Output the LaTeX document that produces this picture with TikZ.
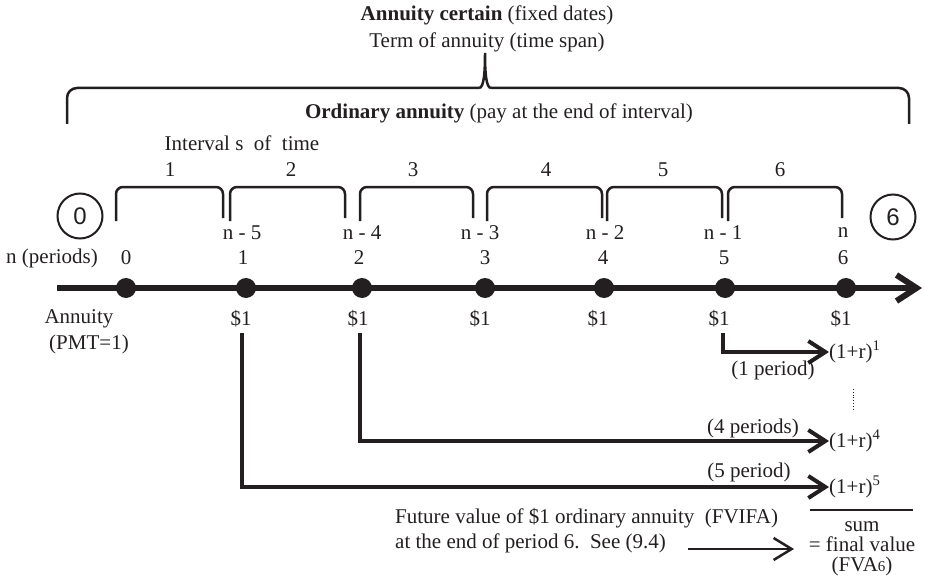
\documentclass[tikz,border=0pt]{standalone}
\usepackage{fontspec}
\setmainfont{Liberation Serif}
\newfontfamily\sansf{Liberation Sans}
\usetikzlibrary{arrows.meta}
\definecolor{ink}{HTML}{231F20}
\tikzset{
  txt/.style={inner sep=0pt, text=ink, font=\fontsize{21}{24}\selectfont},
  dot/.style={circle, fill=ink, minimum size=20pt, inner sep=0pt},
  brk/.style={draw=ink, line width=2.5pt, rounded corners=7pt},
  bigbrace/.style={draw=ink, line width=2.5pt},
  axis/.style={draw=ink, line width=6pt, -{Straight Barb[length=20pt,width=26pt]}},
  flow/.style={draw=ink, line width=4pt, -{Straight Barb[length=17pt,width=22pt]}},
  thinflow/.style={draw=ink, line width=2.5pt, -{Straight Barb[length=18pt,width=22pt]}},
  endcirc/.style={circle, draw=ink, line width=2pt, minimum size=45pt, inner sep=0pt,
    text=ink, font=\sansf\fontsize{24}{24}\selectfont},
}
\begin{document}
\begin{tikzpicture}[x=1pt,y=-1pt]
\path[use as bounding box] (0,0) rectangle (925,588);

% titles
\node[txt] (title) at (487,15) {\textbf{Annuity certain} (fixed dates)};
\node[txt] (term) at (487,42) {Term of annuity (time span)};
\node[txt] (ord) at (499,113) {\textbf{Ordinary annuity} (pay at the end of interval)};

% big brace
\draw[bigbrace, rounded corners=10pt] (67,124) |- (479,88);
\draw[bigbrace] (479,88) .. controls (484,88) and (485,72) .. (485,53)
                        .. controls (485,72) and (486,88) .. (491,88);
\draw[bigbrace, rounded corners=10pt] (491,88) -| (909,124);

% intervals
\node[txt] (ivl) at (242,143) {Interval s\ \ of\ \ time};
\foreach \i/\x in {1/170,2/291,3/413,4/546,5/663,6/780}
  \node[txt] (iv\i) at (\x,170) {\i};
\foreach \a/\b in {116/223,230/345,360/473,487/602,607/722,728/842}
  \draw[brk] (\a,221) |- (\b,187) -- (\b,218);

% end circles
\node[endcirc] (c0) at (80,216) {0};
\node[endcirc] (c6) at (893,217) {6};

% n labels
\foreach \nm/\x/\t in {a/242/n - 5,b/362/n - 4,c/480/n - 3,d/605/n - 2,e/723/n - 1,f/843/n}
  \node[txt] (n\nm) at (\x,233) {\t};

% period numbers
\node[txt] (nper) at (52,258) {n (periods)};
\foreach \i/\x in {0/126,1/243,2/359,3/485,4/603,5/724,6/843}
  \node[txt] (k\i) at (\x,258) {\i};

% axis
\coordinate (ax0) at (57,288);
\coordinate (ax1) at (922,288);
\draw[axis] (ax0) -- (ax1);
\foreach \i/\x in {0/126,1/246,2/362,3/485,4/604,5/725,6/846}
  \node[dot] (d\i) at (\x,288) {};

% payments
\node[txt] (ann) at (79,319) {Annuity};
\node[txt] (pmt) at (89,344) {(PMT=1)};
\foreach \i/\x in {1/241,2/358,3/480,4/598,5/719,6/841}
  \node[txt] (m\i) at (\x,319) {\$1};

% compounding results
\node[txt, anchor=west] (r1) at (829,352) {(1+r)\textsuperscript{1}};
\node[txt, anchor=west] (r4) at (829,441) {(1+r)\textsuperscript{4}};
\node[txt, anchor=west] (r5) at (829,487) {(1+r)\textsuperscript{5}};
\draw[ink, line width=0.8pt, dotted] (853,389) -- (853,411);

\coordinate (s5) at (723,333);
\coordinate (s2) at (360,333);
\coordinate (s1) at (242,333);
\draw[flow] (s5) |- (r1.west);
\draw[flow] (s2) |- (r4.west);
\draw[flow] (s1) |- (r5.west);

\node[txt] (l1) at (773,370) {(1 period)};
\node[txt] (l4) at (753,428) {(4 periods)};
\node[txt] (l5) at (749,472) {(5 period)};

% sum
\draw[ink, line width=2.5pt] (810,510) -- (913,510);
\node[txt, align=center, font=\fontsize{21}{20}\selectfont] (fv) at (862,549)
  {sum\\= final value\\(FVA{\fontsize{15}{15}\selectfont 6})};

% bottom text
\node[txt, anchor=west, align=left] (fvtxt) at (395,531)
  {Future value of \$1 ordinary annuity\ \ (FVIFA)\\[1pt] at the end of period 6.\ \ See (9.4)};
\coordinate (fa) at (688,549);
\coordinate (fb) at (794,549);
\draw[thinflow] (fa) -- (fb);
\end{tikzpicture}
\end{document}
